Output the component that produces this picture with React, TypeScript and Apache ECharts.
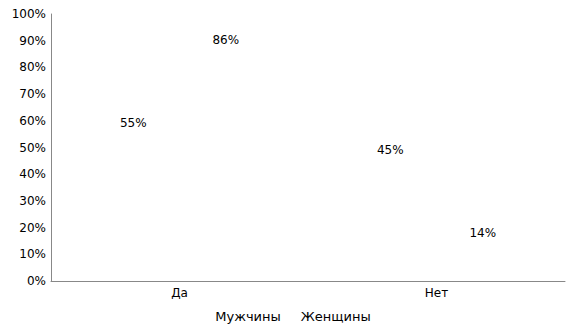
import React, { useEffect, useRef } from "react";
import * as echarts from "echarts";

const categories = ["Да", "Нет"];
const seriesNames = ["Мужчины", "Женщины"];
const menValues = [55, 45];
const womenValues = [86, 14];
const yTicks = { min: 0, max: 100, interval: 10 };

export default function App() {
  const ref = useRef<HTMLDivElement>(null);
  useEffect(() => {
    if (!ref.current) return;
    const chart = echarts.init(ref.current, null, { renderer: "svg" });
    const font = "DejaVu Sans";
    const labelStyle = {
      show: true,
      position: "top" as const,
      formatter: "{c}%",
      color: "#000",
      fontFamily: font,
      fontSize: 12,
    };
    chart.setOption({
      animation: false,
      backgroundColor: "#fff",
      textStyle: { fontFamily: font },
      grid: { left: 51, right: 11, top: 14, bottom: 55 },
      legend: {
        data: seriesNames,
        bottom: 8,
        left: "center",
        itemWidth: 5,
        itemHeight: 5,
        itemGap: 10,
        textStyle: { color: "#000", fontFamily: font, fontSize: 13 },
      },
      xAxis: {
        type: "category",
        data: categories,
        axisLine: { lineStyle: { color: "#888" } },
        axisTick: { show: false },
        axisLabel: { color: "#000", fontFamily: font, fontSize: 12, margin: 6 },
      },
      yAxis: {
        type: "value",
        min: yTicks.min,
        max: yTicks.max,
        interval: yTicks.interval,
        axisLine: { show: true, lineStyle: { color: "#888" } },
        axisTick: { show: false },
        splitLine: { show: false },
        axisLabel: {
          color: "#000",
          fontFamily: font,
          fontSize: 12,
          margin: 5,
          formatter: "{value}%",
        },
      },
      series: [
        {
          name: seriesNames[0],
          type: "bar",
          data: menValues,
          barGap: "0%",
          barCategoryGap: "28%",
          itemStyle: { color: "#fff" },
          label: labelStyle,
        },
        {
          name: seriesNames[1],
          type: "bar",
          data: womenValues,
          itemStyle: { color: "#fff" },
          label: labelStyle,
        },
      ],
    });
    return () => chart.dispose();
  }, []);
  return <div ref={ref} style={{ width: 576, height: 336, position: "fixed", left: 0, top: 0 }} />;
}
